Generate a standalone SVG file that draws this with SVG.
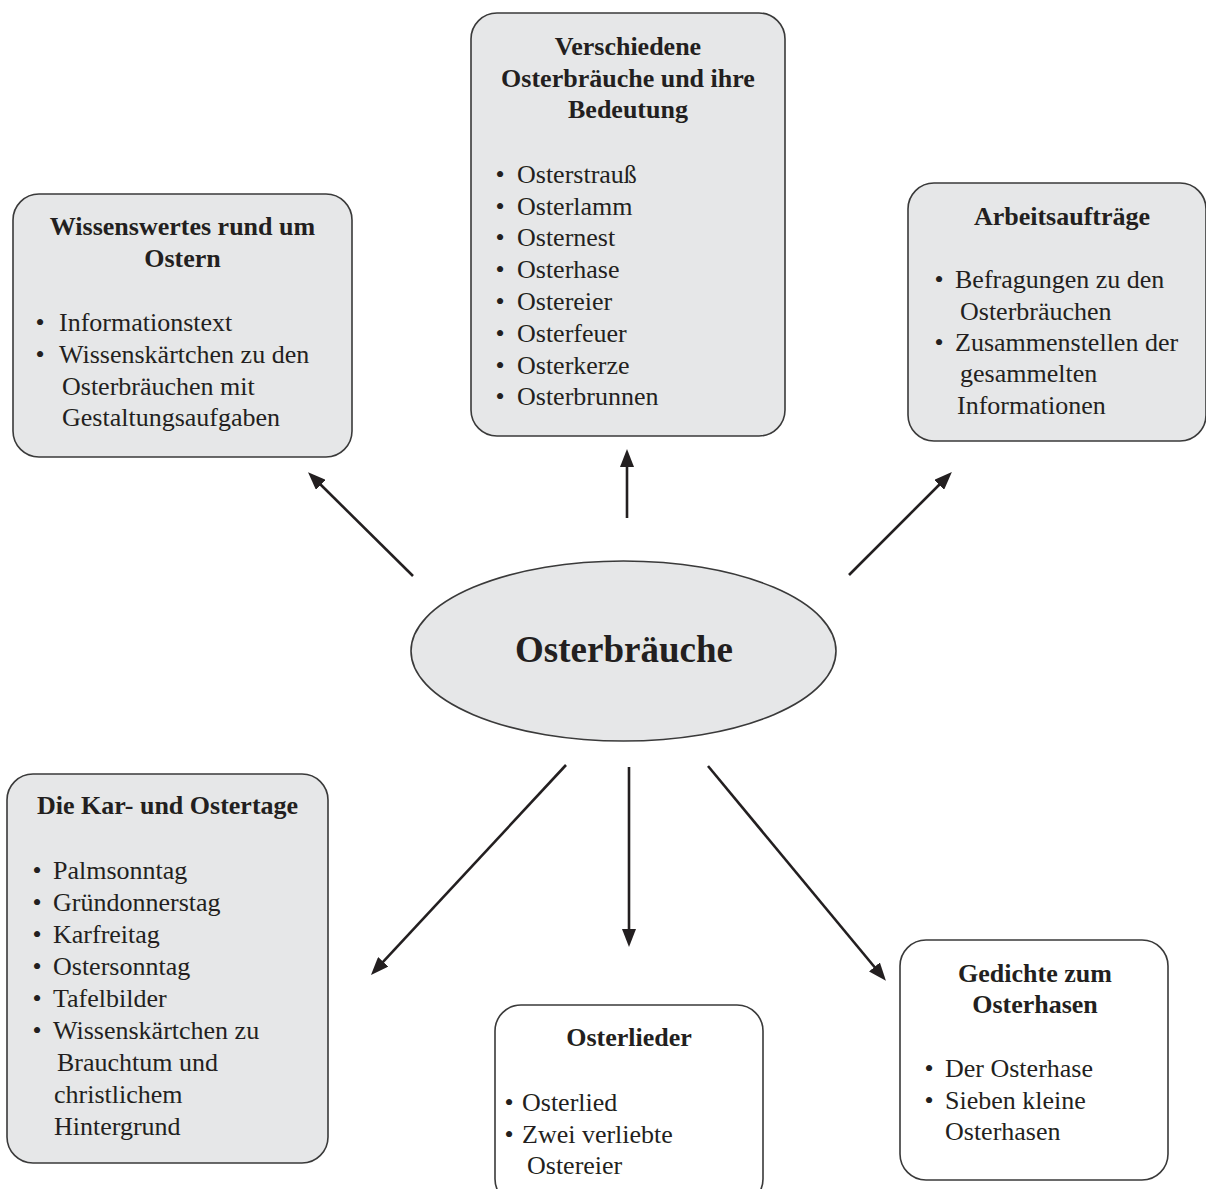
<svg xmlns="http://www.w3.org/2000/svg" width="1206" height="1189" viewBox="0 0 1206 1189">
<style>
.box{fill:#e6e7e8;stroke:#3a3a3a;stroke-width:1.6}
.wbox{fill:#ffffff;stroke:#3a3a3a;stroke-width:1.6}
.h{font-family:"Liberation Serif",serif;font-weight:bold;font-size:26px;fill:#231f20;text-anchor:middle}
.t{font-family:"Liberation Serif",serif;font-size:26px;fill:#231f20}
.big{font-family:"Liberation Serif",serif;font-weight:bold;font-size:37px;fill:#231f20;text-anchor:middle}
.conn line{stroke:#231f20;stroke-width:2.6;marker-end:url(#ah)}
</style>
<defs>
<marker id="ah" markerUnits="userSpaceOnUse" markerWidth="18" markerHeight="14" refX="4" refY="7" orient="auto">
<path d="M0,0 L18,7 L0,14 z" fill="#231f20"/>
</marker>
</defs>
<rect width="1206" height="1189" fill="#ffffff"/>

<g id="center">
<ellipse cx="623.5" cy="651" rx="212.5" ry="90" class="box"/>
<text x="624" y="662" class="big">Osterbräuche</text>
</g>

<g id="wissenswertes">
<rect x="13" y="194" width="339" height="263" rx="26" class="box"/>
<text x="182.5" y="235" class="h">Wissenswertes rund um</text>
<text x="182.5" y="267" class="h">Ostern</text>
<text x="35.5" y="331" class="t">•</text><text x="59" y="331" class="t">Informationstext</text>
<text x="35.5" y="363" class="t">•</text><text x="59" y="363" class="t">Wissenskärtchen zu den</text>
<text x="62" y="395" class="t">Osterbräuchen mit</text>
<text x="62" y="426" class="t">Gestaltungsaufgaben</text>
</g>

<g id="verschiedene">
<rect x="471" y="13" width="314" height="423" rx="26" class="box"/>
<text x="628" y="55" class="h">Verschiedene</text>
<text x="628" y="87" class="h">Osterbräuche und ihre</text>
<text x="628" y="118" class="h">Bedeutung</text>
<text x="495.5" y="183" class="t">•</text><text x="517" y="183" class="t">Osterstrauß</text>
<text x="495.5" y="215" class="t">•</text><text x="517" y="215" class="t">Osterlamm</text>
<text x="495.5" y="246" class="t">•</text><text x="517" y="246" class="t">Osternest</text>
<text x="495.5" y="278" class="t">•</text><text x="517" y="278" class="t">Osterhase</text>
<text x="495.5" y="310" class="t">•</text><text x="517" y="310" class="t">Ostereier</text>
<text x="495.5" y="342" class="t">•</text><text x="517" y="342" class="t">Osterfeuer</text>
<text x="495.5" y="374" class="t">•</text><text x="517" y="374" class="t">Osterkerze</text>
<text x="495.5" y="405" class="t">•</text><text x="517" y="405" class="t">Osterbrunnen</text>
</g>

<g id="arbeitsauftraege">
<rect x="908" y="183" width="298" height="258" rx="26" class="box"/>
<text x="1062" y="225" class="h">Arbeitsaufträge</text>
<text x="934.5" y="288" class="t">•</text><text x="955" y="288" class="t">Befragungen zu den</text>
<text x="960" y="320" class="t">Osterbräuchen</text>
<text x="934.5" y="351" class="t">•</text><text x="955" y="351" class="t">Zusammenstellen der</text>
<text x="960" y="382" class="t">gesammelten</text>
<text x="957" y="414" class="t">Informationen</text>
</g>

<g id="kartage">
<rect x="7" y="774" width="321" height="389" rx="26" class="box"/>
<text x="167.5" y="814" class="h">Die Kar- und Ostertage</text>
<text x="32.5" y="879" class="t">•</text><text x="53" y="879" class="t">Palmsonntag</text>
<text x="32.5" y="911" class="t">•</text><text x="53" y="911" class="t">Gründonnerstag</text>
<text x="32.5" y="943" class="t">•</text><text x="53" y="943" class="t">Karfreitag</text>
<text x="32.5" y="975" class="t">•</text><text x="53" y="975" class="t">Ostersonntag</text>
<text x="32.5" y="1007" class="t">•</text><text x="53" y="1007" class="t">Tafelbilder</text>
<text x="32.5" y="1039" class="t">•</text><text x="53" y="1039" class="t">Wissenskärtchen zu</text>
<text x="57" y="1071" class="t">Brauchtum und</text>
<text x="54" y="1103" class="t">christlichem</text>
<text x="54" y="1135" class="t">Hintergrund</text>
</g>

<g id="osterlieder">
<rect x="495" y="1005" width="268" height="200" rx="26" class="wbox"/>
<text x="629" y="1046" class="h">Osterlieder</text>
<text x="504.5" y="1111" class="t">•</text><text x="522" y="1111" class="t">Osterlied</text>
<text x="504.5" y="1143" class="t">•</text><text x="522" y="1143" class="t">Zwei verliebte</text>
<text x="527" y="1174" class="t">Ostereier</text>
</g>

<g id="gedichte">
<rect x="900" y="940" width="268" height="240" rx="26" class="wbox"/>
<text x="1035" y="982" class="h">Gedichte zum</text>
<text x="1035" y="1013" class="h">Osterhasen</text>
<text x="924.5" y="1077" class="t">•</text><text x="945" y="1077" class="t">Der Osterhase</text>
<text x="924.5" y="1109" class="t">•</text><text x="945" y="1109" class="t">Sieben kleine</text>
<text x="945" y="1140" class="t">Osterhasen</text>
</g>

<g id="connectors" class="conn">
<line x1="413" y1="576" x2="318" y2="482"/>
<line x1="627" y1="518" x2="627" y2="463"/>
<line x1="849" y1="575" x2="942" y2="482"/>
<line x1="566" y1="765" x2="380.5" y2="964.7"/>
<line x1="629" y1="767" x2="629" y2="933"/>
<line x1="708" y1="766" x2="877" y2="970"/>
</g>
</svg>
